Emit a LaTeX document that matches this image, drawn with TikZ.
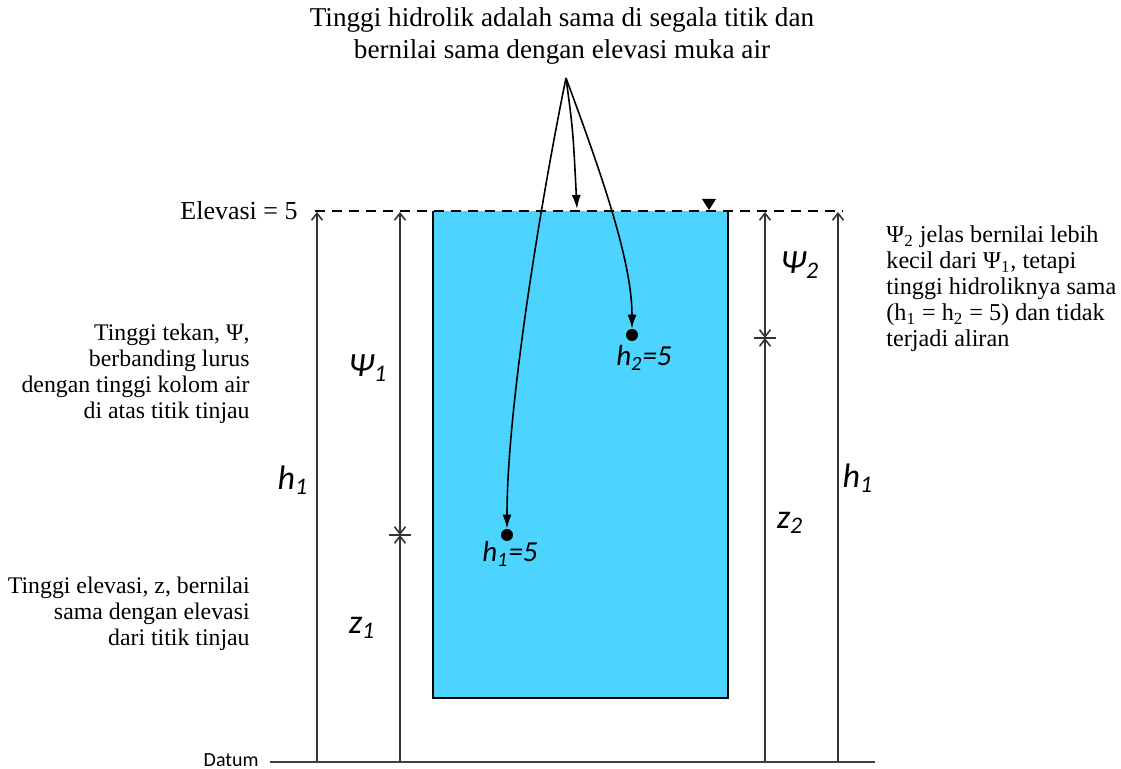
\documentclass[tikz,border=0pt]{standalone}
\usepackage{fontspec}
\setmainfont{Liberation Serif}
\newfontfamily\labfont{Carlito}
\usetikzlibrary{positioning,arrows.meta}
\definecolor{water}{HTML}{4CD4FF}

\begin{document}
\begin{tikzpicture}[
  x=0.5pt, y=-0.5pt,
  note/.style={font=\fontsize{11.9}{13}\selectfont,inner sep=0pt},
  sym/.style={font=\labfont\itshape\fontsize{17}{17}\selectfont,inner sep=0pt},
  ptlabel/.style={font=\labfont\itshape\fontsize{14.5}{15}\selectfont,inner sep=0pt},
  dot/.style={circle,fill=black,inner sep=0pt,minimum size=6pt},
  dimline/.style={draw=black!80,line width=0.8pt},
  dimtip/.style={-{Straight Barb[length=3.5pt,width=5.5pt]}},
  dimboth/.style={{Straight Barb[length=3.5pt,width=5.5pt]}-{Straight Barb[length=3.5pt,width=5.5pt]}},
  pointer/.style={draw=black,line width=0.8pt,-{Latex[length=7pt,width=4.5pt]}},
]
  \useasboundingbox (0,0) rectangle (1121,769);

  % tank and water surface
  \fill[water] (433,211) rectangle (728,698);
  \draw[line width=1.2pt] (433,211) -- (433,698) -- (728,698) -- (728,211);
  \draw[line width=0.8pt,dash pattern=on 5pt off 3.5pt] (315,211) -- (843,211);
  \fill (702,199) -- (716,199) -- (709,210) -- cycle;
  \draw[line width=0.8pt,black!75] (270,762) -- (875,762);

  % texts
  \node[font=\fontsize{13.6}{16}\selectfont,align=center] (title) at (562,36)
    {Tinggi hidrolik adalah sama di segala titik dan\\bernilai sama dengan elevasi muka air};
  \node[note,align=right,anchor=east] (psinote) at (250,374)
    {Tinggi tekan, Ψ,\\berbanding lurus\\dengan tinggi kolom air\\di atas titik tinjau};
  \node[note,align=right,anchor=east] (znote) at (250,614)
    {Tinggi elevasi, z, bernilai\\sama dengan elevasi\\dari titik tinjau};
  \node[note,font=\fontsize{12.1}{13}\selectfont,align=left,anchor=west] (rnote) at (886,289)
    {Ψ\textsubscript{2} jelas bernilai lebih\\kecil dari Ψ\textsubscript{1}, tetapi\\tinggi hidroliknya sama\\(h\textsubscript{1} = h\textsubscript{2} = 5) dan tidak\\terjadi aliran};
  \node[font=\fontsize{13}{13}\selectfont,anchor=east,inner sep=0pt] (elev) at (298,211) {Elevasi = 5};
  \node[font=\labfont\fontsize{10}{10}\selectfont,anchor=east,inner sep=0pt] (datum) at (259,760) {Datum};

  % points in the water
  \node[dot] (p1) at (507,535) {};
  \node[dot] (p2) at (632,335) {};
  \node[ptlabel] (p1lab) at (510,554) {h\textsubscript{1}=5};
  \node[ptlabel] (p2lab) at (644,358) {h\textsubscript{2}=5};

  \coordinate (src) at (566,78);
  \coordinate (surf) at (577,209);
  \draw[pointer] (src) .. controls (545,180) and (507,400) .. (p1);
  \draw[pointer] (src) .. controls (573,130) .. (surf);
  \draw[pointer] (src) .. controls (600,170) and (632,260) .. (p2);

  % dimension lines
  \coordinate (hLtop) at (317,212);  \coordinate (hLbot) at (317,761);
  \coordinate (psiAtop) at (400,212); \coordinate (psiAbot) at (400,535);
  \coordinate (zAbot) at (400,761);
  \coordinate (psiBtop) at (765,212); \coordinate (psiBbot) at (765,338);
  \coordinate (zBbot) at (765,761);
  \coordinate (hRtop) at (838,212);  \coordinate (hRbot) at (838,761);

  \draw[dimline,dimtip] (hLbot) -- (hLtop);
  \draw[dimline,dimtip] (hRbot) -- (hRtop);
  \draw[dimline,dimboth] (psiAtop) -- (psiAbot);
  \draw[dimline,dimtip] (zAbot) -- (psiAbot);
  \draw[dimline] ([xshift=-5.5pt]psiAbot) -- ([xshift=5.5pt]psiAbot);
  \draw[dimline,dimboth] (psiBtop) -- (psiBbot);
  \draw[dimline,dimtip] (zBbot) -- (psiBbot);
  \draw[dimline] ([xshift=-5.5pt]psiBbot) -- ([xshift=5.5pt]psiBbot);

  \node[sym] (hL) at (293,480) {h\textsubscript{1}};
  \node[sym] (psiA) at (368,368) {Ψ\textsubscript{1}};
  \node[sym] (zA) at (362,628) {z\textsubscript{1}};
  \node[sym] (psiB) at (800,265) {Ψ\textsubscript{2}};
  \node[sym] (zB) at (790,523) {z\textsubscript{2}};
  \node[sym] (hR) at (858,478) {h\textsubscript{1}};
\end{tikzpicture}
\end{document}
